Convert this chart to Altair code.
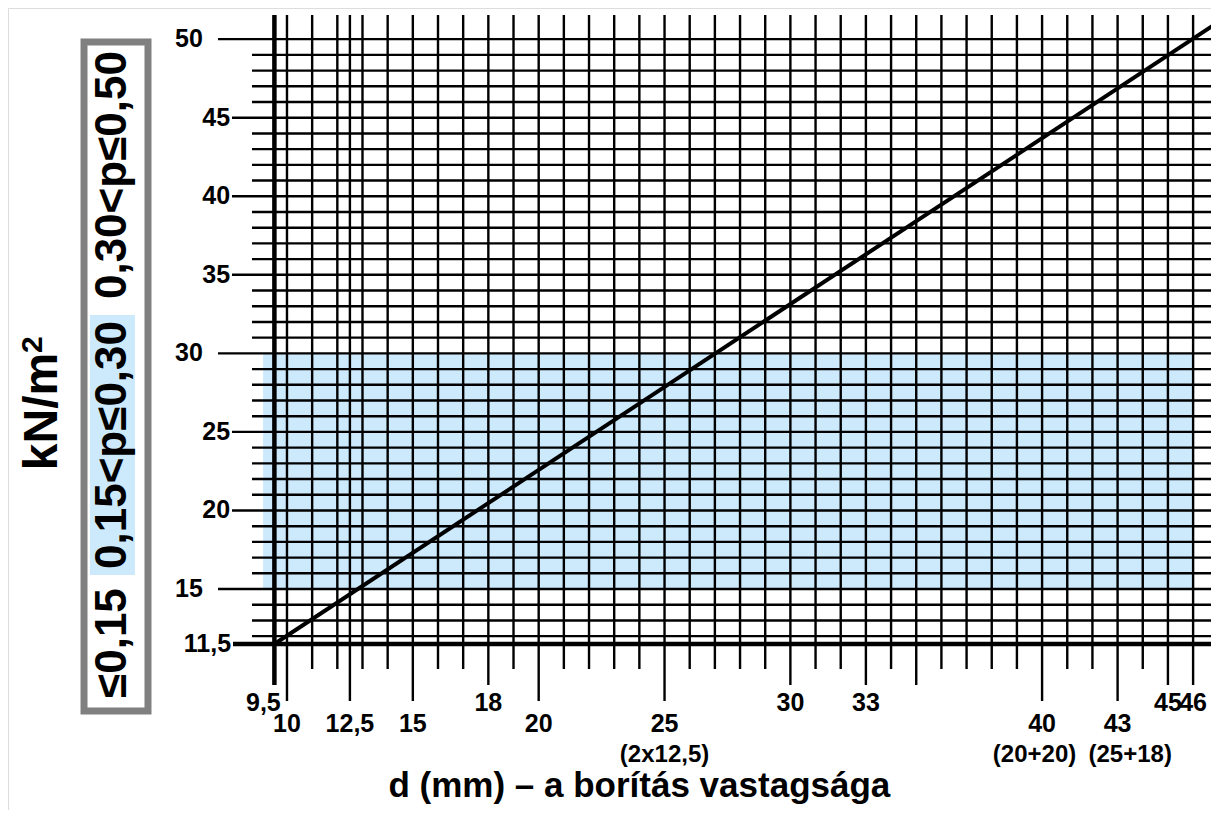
import altair as alt
import pandas as pd

# ---------------- data ----------------
x_grid = [9.5, 10, 11, 12, 12.5, 13, 14, 15, 16, 17, 18, 19, 20, 21, 22, 23, 24, 25,
          26, 27, 28, 29, 30, 31, 32, 33, 34, 35, 36, 37, 38, 39, 40, 41, 42, 43, 44, 45, 46]
x_long = [10, 12.5, 15, 20, 25, 40, 43]
x_medium = [9.5, 18, 30, 33, 35, 45, 46]

y_grid = [12, 13, 14, 15, 16, 17, 18, 19, 20, 21, 22, 23, 24, 25, 26, 27, 28, 29, 30,
          31, 32, 33, 34, 35, 36, 37, 38, 39, 40, 41, 42, 43, 44, 45, 46, 47, 48, 49, 50]
y_far = [50, 30, 15]
y_near = [45, 40, 35, 25, 20]

xlab_row_a = [(9.5, "9,5"), (18, "18"), (30, "30"), (33, "33"), (45, "45"), (46, "46")]
xlab_row_b = [(10, "10"), (12.5, "12,5"), (15, "15"), (20, "20"), (25, "25"), (40, "40"), (43, "43")]
xlab_row_c = [(25, "(2x12,5)"), (39.7, "(20+20)"), (43.5, "(25+18)")]
ylab_far = [(50, "50"), (30, "30"), (15, "15")]
ylab_near = [(45, "45"), (40, "40"), (35, "35"), (25, "25"), (20, "20")]
ylab_axis = [(11.5, "11,5")]

line_x = [9.5, 46.95]
line_y = [11.5, 51.03]

band_x = [9.05, 46]
band_y = [15, 30]

classes = ["0,30<p≤0,50", "0,15<p≤0,30", "≤0,15"]

# ---------------- layout ----------------
W, H = 1203, 802
X0 = -1.084
X1 = X0 + W / 25.17
Y1 = 51.984
Y0 = Y1 - H / 15.71
BLUE = "#cdeafc"
FONT = "Liberation Sans"

xs = alt.Scale(domain=[X0, X1], nice=False, zero=False)
ys = alt.Scale(domain=[Y0, Y1], nice=False, zero=False)

def X(f):
    return alt.X(f, type="quantitative", scale=xs, axis=None)

def Y(f):
    return alt.Y(f, type="quantitative", scale=ys, axis=None)

layers = []

# shaded band
band = pd.DataFrame({"x1": [band_x[0]], "x2": [band_x[1]], "y1": [band_y[0]], "y2": [band_y[1]]})
layers.append(alt.Chart(band).mark_rect(color=BLUE).encode(x=X("x1"), x2="x2", y=Y("y1"), y2="y2"))

# blue background behind middle class label
lbg = pd.DataFrame({"x1": [2.17], "x2": [3.96], "y1": [15.9], "y2": [32.44]})
layers.append(alt.Chart(lbg).mark_rect(color=BLUE).encode(x=X("x1"), x2="x2", y=Y("y1"), y2="y2"))

# vertical grid lines
vrows = []
for v in x_grid:
    if v in x_long:
        bot = 7.87
    elif v in x_medium:
        bot = 8.89
    else:
        bot = 9.91
    vrows.append({"x": v, "yt": 51.54, "yb": bot, "w": 4.5 if v == 9.5 else 2.5})
vdf = pd.DataFrame(vrows)
layers.append(alt.Chart(vdf[vdf.w < 3]).mark_rule(color="black", strokeWidth=2.4)
              .encode(x=X("x"), y=Y("yt"), y2="yb"))

# horizontal grid lines
hrows = []
for v in y_grid:
    if v in y_far:
        left = 7.26
    elif v in y_near:
        left = 7.815
    else:
        left = 8.61
    hrows.append({"y": v, "xl": left, "xr": 46.95})
hdf = pd.DataFrame(hrows)
layers.append(alt.Chart(hdf).mark_rule(color="black", strokeWidth=2.4)
              .encode(x=X("xl"), x2="xr", y=Y("y")))

# axes (thick)
layers.append(alt.Chart(vdf[vdf.w > 3]).mark_rule(color="black", strokeWidth=4.5)
              .encode(x=X("x"), y=Y("yt"), y2="yb"))
adf = pd.DataFrame({"y": [11.5], "xl": [7.855], "xr": [46.95]})
layers.append(alt.Chart(adf).mark_rule(color="black", strokeWidth=4.5)
              .encode(x=X("xl"), x2="xr", y=Y("y")))

# diagonal line
ldf = pd.DataFrame({"x": line_x, "y": line_y})
layers.append(alt.Chart(ldf).mark_line(color="black", strokeWidth=4)
              .encode(x=X("x"), y=Y("y")))

# text helper
def text_layer(df, size, align="center", angle=0, dx=0, dy=0):
    return alt.Chart(df).mark_text(font=FONT, fontWeight="bold", fontSize=size, align=align,
                                   baseline="middle", angle=angle, dx=dx, dy=dy,
                                   color="black").encode(
        x=X("x"), y=Y("y"), text="t:N")

# x tick labels
ra = pd.DataFrame({"x": [v for v, _ in xlab_row_a], "t": [t for _, t in xlab_row_a]})
ra["y"] = 7.745
layers.append(text_layer(ra[ra.t != "9,5"], 25))
layers.append(text_layer(ra[ra.t == "9,5"], 25, dx=-11))
rb = pd.DataFrame({"x": [v for v, _ in xlab_row_b], "t": [t for _, t in xlab_row_b]})
rb["y"] = 6.41
layers.append(text_layer(rb, 25))
rc = pd.DataFrame({"x": [v for v, _ in xlab_row_c], "t": [t for _, t in xlab_row_c]})
rc["y"] = 4.45
layers.append(text_layer(rc, 24))

# y tick labels
yf = pd.DataFrame({"y": [v for v, _ in ylab_far], "t": [t for _, t in ylab_far]})
yf["x"] = 6.66
layers.append(text_layer(yf, 25, align="right"))
yn = pd.DataFrame({"y": [v for v, _ in ylab_near], "t": [t for _, t in ylab_near]})
yn["x"] = 7.74
layers.append(text_layer(yn, 25, align="right"))
ya = pd.DataFrame({"y": [v for v, _ in ylab_axis], "t": [t for _, t in ylab_axis]})
ya["x"] = 7.78
layers.append(text_layer(ya, 25, align="right"))

# x title
tdf = pd.DataFrame({"x": [24.0], "y": [2.45], "t": ["d (mm) – a borítás vastagsága"]})
layers.append(text_layer(tdf, 35))

# y title: "kN/m" with superscript "2"
ydf = pd.DataFrame({"x": [0.31], "y": [26.3], "t": ["kN/m"]})
layers.append(text_layer(ydf, 48, angle=270))
sdf = pd.DataFrame({"x": [-0.09], "y": [30.55], "t": ["2"]})
layers.append(text_layer(sdf, 30, angle=270))

# class box
bdf = pd.DataFrame({"x1": [1.936], "x2": [4.478], "y1": [7.23], "y2": [49.82]})
layers.append(alt.Chart(bdf).mark_rect(filled=False, stroke="#808080", strokeWidth=7)
              .encode(x=X("x1"), x2="x2", y=Y("y1"), y2="y2"))
cdf = pd.DataFrame({"x": [3.087, 3.087, 3.087], "y": [41.35, 24.17, 11.56], "t": classes})
layers.append(text_layer(cdf, 44, angle=270))

chart = alt.layer(*layers).properties(
    width=W, height=H, padding=0, autosize=alt.AutoSizeParams(type="none")
).configure_view(stroke=None).configure(background="white")

chart.save("out.html", embed_options={"renderer": "svg", "actions": False})
